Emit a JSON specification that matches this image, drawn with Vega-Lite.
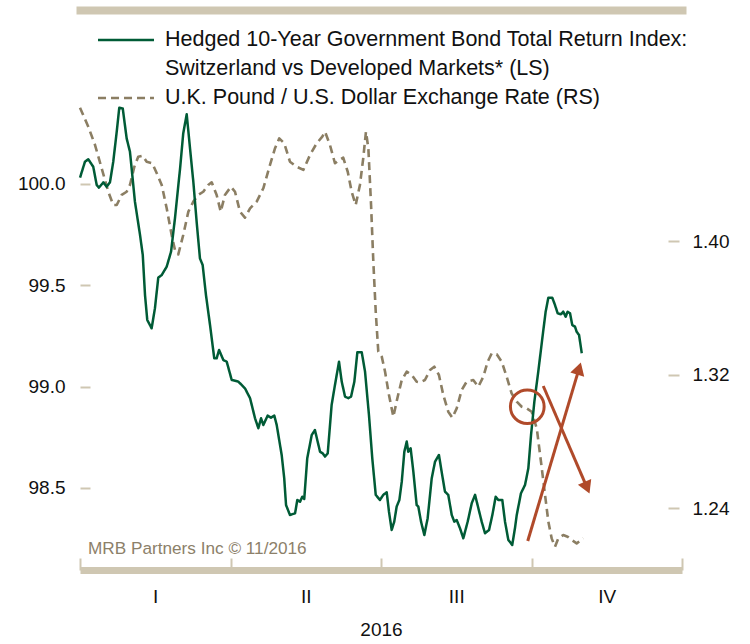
{
  "$schema": "https://vega.github.io/schema/vega-lite/v6.json",
  "width": 602,
  "height": 560,
  "autosize": "none",
  "padding": {"left": 80, "top": 10, "right": 68, "bottom": 74},
  "background": "white",
  "config": {
    "font": "Liberation Sans",
    "view": {"stroke": null},
    "legend": {
      "labelFontSize": 21.5,
      "labelColor": "#111111",
      "labelLimit": 0,
      "rowPadding": 7,
      "padding": 0,
      "symbolType": "M-3,0H3",
      "symbolSize": 348,
      "symbolStrokeWidth": 2.5,
      "labelOffset": 28
    }
  },
  "datasets": {
    "bond": [
      {"t":0,"v":100.031},{"t":0.033,"v":100.110},{"t":0.055,"v":100.122},{"t":0.088,"v":100.085},{"t":0.111,"v":99.995},
      {"t":0.126,"v":99.982},{"t":0.155,"v":100.008},{"t":0.177,"v":99.987},{"t":0.199,"v":100.008},{"t":0.221,"v":100.110},
      {"t":0.244,"v":100.258},{"t":0.261,"v":100.376},{"t":0.284,"v":100.373},{"t":0.310,"v":100.225},{"t":0.332,"v":100.159},
      {"t":0.365,"v":99.913},{"t":0.399,"v":99.748},{"t":0.417,"v":99.650},{"t":0.432,"v":99.452},{"t":0.447,"v":99.329},
      {"t":0.476,"v":99.288},{"t":0.498,"v":99.387},{"t":0.520,"v":99.538},{"t":0.543,"v":99.551},{"t":0.576,"v":99.592},
      {"t":0.605,"v":99.666},{"t":0.631,"v":99.831},{"t":0.665,"v":100.077},{"t":0.686,"v":100.250},{"t":0.709,"v":100.344},
      {"t":0.731,"v":100.176},{"t":0.753,"v":100.011},{"t":0.775,"v":99.814},{"t":0.797,"v":99.633},{"t":0.815,"v":99.600},
      {"t":0.837,"v":99.452},{"t":0.864,"v":99.304},{"t":0.892,"v":99.140},{"t":0.908,"v":99.140},{"t":0.924,"v":99.181},
      {"t":0.952,"v":99.132},{"t":0.975,"v":99.123},{"t":1.008,"v":99.033},{"t":1.052,"v":99.025},{"t":1.096,"v":98.992},
      {"t":1.130,"v":98.943},{"t":1.163,"v":98.844},{"t":1.185,"v":98.795},{"t":1.203,"v":98.844},{"t":1.218,"v":98.811},
      {"t":1.247,"v":98.857},{"t":1.269,"v":98.847},{"t":1.291,"v":98.857},{"t":1.307,"v":98.811},{"t":1.340,"v":98.663},
      {"t":1.357,"v":98.548},{"t":1.369,"v":98.416},{"t":1.395,"v":98.367},{"t":1.429,"v":98.375},{"t":1.444,"v":98.441},
      {"t":1.462,"v":98.432},{"t":1.477,"v":98.457},{"t":1.490,"v":98.446},{"t":1.510,"v":98.647},{"t":1.540,"v":98.762},
      {"t":1.561,"v":98.786},{"t":1.579,"v":98.729},{"t":1.595,"v":98.679},{"t":1.613,"v":98.671},{"t":1.628,"v":98.655},
      {"t":1.646,"v":98.671},{"t":1.672,"v":98.910},{"t":1.694,"v":99.008},{"t":1.721,"v":99.123},{"t":1.739,"v":99.025},
      {"t":1.761,"v":98.951},{"t":1.783,"v":98.943},{"t":1.801,"v":98.951},{"t":1.823,"v":99.025},{"t":1.843,"v":99.170},
      {"t":1.872,"v":99.170},{"t":1.894,"v":99.074},{"t":1.920,"v":98.860},{"t":1.942,"v":98.647},{"t":1.965,"v":98.466},
      {"t":1.993,"v":98.441},{"t":2.015,"v":98.466},{"t":2.038,"v":98.479},{"t":2.053,"v":98.383},{"t":2.071,"v":98.293},
      {"t":2.088,"v":98.334},{"t":2.104,"v":98.408},{"t":2.122,"v":98.441},{"t":2.138,"v":98.531},{"t":2.155,"v":98.679},
      {"t":2.171,"v":98.729},{"t":2.181,"v":98.679},{"t":2.197,"v":98.696},{"t":2.215,"v":98.580},{"t":2.237,"v":98.416},
      {"t":2.248,"v":98.408},{"t":2.266,"v":98.334},{"t":2.288,"v":98.268},{"t":2.310,"v":98.351},{"t":2.337,"v":98.548},
      {"t":2.359,"v":98.630},{"t":2.385,"v":98.663},{"t":2.403,"v":98.580},{"t":2.425,"v":98.482},{"t":2.447,"v":98.466},
      {"t":2.470,"v":98.367},{"t":2.487,"v":98.334},{"t":2.503,"v":98.342},{"t":2.525,"v":98.301},{"t":2.547,"v":98.252},
      {"t":2.576,"v":98.334},{"t":2.603,"v":98.425},{"t":2.625,"v":98.466},{"t":2.647,"v":98.400},{"t":2.669,"v":98.334},
      {"t":2.691,"v":98.277},{"t":2.718,"v":98.293},{"t":2.740,"v":98.367},{"t":2.762,"v":98.457},{"t":2.779,"v":98.441},
      {"t":2.806,"v":98.441},{"t":2.824,"v":98.334},{"t":2.846,"v":98.244},{"t":2.872,"v":98.219},{"t":2.890,"v":98.301},
      {"t":2.902,"v":98.367},{"t":2.930,"v":98.474},{"t":2.957,"v":98.515},{"t":2.979,"v":98.597},{"t":2.997,"v":98.762},
      {"t":3.019,"v":98.926},{"t":3.045,"v":99.074},{"t":3.072,"v":99.239},{"t":3.094,"v":99.370},{"t":3.112,"v":99.439},
      {"t":3.138,"v":99.439},{"t":3.156,"v":99.403},{"t":3.174,"v":99.362},{"t":3.196,"v":99.357},{"t":3.211,"v":99.370},
      {"t":3.227,"v":99.345},{"t":3.240,"v":99.370},{"t":3.256,"v":99.362},{"t":3.271,"v":99.304},{"t":3.289,"v":99.296},
      {"t":3.300,"v":99.271},{"t":3.316,"v":99.255},{"t":3.334,"v":99.165}
    ],
    "gbp": [
      {"t":0,"r":1.4799},{"t":0.055,"r":1.4685},{"t":0.100,"r":1.4575},{"t":0.144,"r":1.4436},{"t":0.188,"r":1.4295},
      {"t":0.221,"r":1.4216},{"t":0.244,"r":1.4216},{"t":0.277,"r":1.4276},{"t":0.310,"r":1.4295},{"t":0.332,"r":1.4336},
      {"t":0.361,"r":1.4445},{"t":0.387,"r":1.4505},{"t":0.417,"r":1.4511},{"t":0.443,"r":1.4475},{"t":0.480,"r":1.4466},
      {"t":0.510,"r":1.4406},{"t":0.543,"r":1.4336},{"t":0.576,"r":1.4196},{"t":0.609,"r":1.4036},{"t":0.631,"r":1.3946},
      {"t":0.653,"r":1.3920},{"t":0.686,"r":1.4036},{"t":0.720,"r":1.4176},{"t":0.753,"r":1.4236},{"t":0.786,"r":1.4276},
      {"t":0.819,"r":1.4295},{"t":0.852,"r":1.4336},{"t":0.875,"r":1.4352},{"t":0.908,"r":1.4276},{"t":0.935,"r":1.4176},
      {"t":0.963,"r":1.4276},{"t":1.003,"r":1.4325},{"t":1.030,"r":1.4295},{"t":1.063,"r":1.4176},{"t":1.096,"r":1.4140},
      {"t":1.130,"r":1.4196},{"t":1.174,"r":1.4236},{"t":1.218,"r":1.4316},{"t":1.262,"r":1.4455},{"t":1.296,"r":1.4556},
      {"t":1.324,"r":1.4615},{"t":1.357,"r":1.4586},{"t":1.395,"r":1.4475},{"t":1.440,"r":1.4445},{"t":1.484,"r":1.4426},
      {"t":1.528,"r":1.4515},{"t":1.573,"r":1.4586},{"t":1.610,"r":1.4625},{"t":1.628,"r":1.4655},{"t":1.661,"r":1.4575},
      {"t":1.694,"r":1.4466},{"t":1.721,"r":1.4485},{"t":1.749,"r":1.4499},{"t":1.779,"r":1.4415},{"t":1.805,"r":1.4295},
      {"t":1.832,"r":1.4216},{"t":1.860,"r":1.4336},{"t":1.882,"r":1.4496},{"t":1.900,"r":1.4655},{"t":1.916,"r":1.4556},
      {"t":1.934,"r":1.4216},{"t":1.949,"r":1.3876},{"t":1.965,"r":1.3576},{"t":1.982,"r":1.3337},{"t":2.005,"r":1.3307},
      {"t":2.027,"r":1.3217},{"t":2.053,"r":1.3077},{"t":2.082,"r":1.2947},{"t":2.111,"r":1.3067},{"t":2.138,"r":1.3167},
      {"t":2.171,"r":1.3217},{"t":2.204,"r":1.3197},{"t":2.237,"r":1.3157},{"t":2.259,"r":1.3153},{"t":2.292,"r":1.3167},
      {"t":2.326,"r":1.3227},{"t":2.354,"r":1.3247},{"t":2.385,"r":1.3197},{"t":2.414,"r":1.3077},{"t":2.447,"r":1.2977},
      {"t":2.474,"r":1.2941},{"t":2.503,"r":1.2997},{"t":2.536,"r":1.3107},{"t":2.569,"r":1.3157},{"t":2.613,"r":1.3167},
      {"t":2.647,"r":1.3127},{"t":2.680,"r":1.3187},{"t":2.709,"r":1.3277},{"t":2.736,"r":1.3327},{"t":2.769,"r":1.3321},
      {"t":2.802,"r":1.3277},{"t":2.835,"r":1.3187},{"t":2.868,"r":1.3087},{"t":2.902,"r":1.3037},{"t":2.935,"r":1.3007},
      {"t":2.968,"r":1.2997},{"t":3.001,"r":1.2977},{"t":3.035,"r":1.2877},{"t":3.063,"r":1.2677},{"t":3.090,"r":1.2478},
      {"t":3.112,"r":1.2318},{"t":3.134,"r":1.2218},{"t":3.156,"r":1.2168},{"t":3.178,"r":1.2218},{"t":3.211,"r":1.2238},
      {"t":3.240,"r":1.2228},{"t":3.267,"r":1.2208},{"t":3.300,"r":1.2188},{"t":3.344,"r":1.2218}
    ]
  },
  "layer": [
    {
      "data": {"name": "gbp"},
      "mark": {"type": "line", "strokeWidth": 2.6, "strokeJoin": "round"},
      "encoding": {
        "x": {
          "field": "t", "type": "quantitative",
          "scale": {"domain": [0, 4], "nice": false, "zero": false},
          "axis": {"orient": "top", "domainColor": "#cfc7b2", "domainWidth": 8, "domainCap": "square", "ticks": false, "labels": false, "grid": false, "title": null}
        },
        "y": {
          "field": "r", "type": "quantitative",
          "scale": {"domain": [1.20285, 1.53843], "nice": false, "zero": false},
          "axis": {"orient": "right", "values": [1.24, 1.32, 1.40], "format": ".2f", "domain": false, "grid": false, "offset": -3, "tickSize": -11, "tickWidth": 2, "tickColor": "#cfc7b2", "labelPadding": 24, "labelFontSize": 19, "labelColor": "#111111", "title": null}
        },
        "color": {
          "datum": "RS", "type": "nominal",
          "scale": {"domain": ["LS", "LS2", "RS"], "range": ["#005b36", "transparent", "#8b7e63"]},
          "legend": {"orient": "none", "legendX": 35, "legendY": 19, "title": null, "labelExpr": "datum.value == 'LS' ? 'Hedged 10-Year Government Bond Total Return Index:' : datum.value == 'LS2' ? 'Switzerland vs Developed Markets* (LS)' : 'U.K. Pound / U.S. Dollar Exchange Rate (RS)'"}
        },
        "strokeDash": {
          "datum": "RS", "type": "nominal",
          "scale": {"domain": ["LS", "LS2", "RS"], "range": [[1, 0], [1, 0], [8, 5]]},
          "legend": {"orient": "none", "legendX": 35, "legendY": 19, "title": null, "labelExpr": "datum.value == 'LS' ? 'Hedged 10-Year Government Bond Total Return Index:' : datum.value == 'LS2' ? 'Switzerland vs Developed Markets* (LS)' : 'U.K. Pound / U.S. Dollar Exchange Rate (RS)'"}
        }
      }
    },
    {
      "encoding": {
        "x": {
          "field": "t", "type": "quantitative",
          "scale": {"domain": [0, 4], "nice": false, "zero": false},
          "axis": {
            "orient": "bottom",
            "values": [0, 0.5, 1, 1.5, 2, 2.5, 3, 3.5, 4],
            "labelExpr": "datum.value == 0.5 ? 'I' : datum.value == 1.5 ? 'II' : datum.value == 2.5 ? 'III' : datum.value == 3.5 ? 'IV' : ''",
            "tickSize": -12, "tickWidth": 2, "tickColor": "#cfc7b2",
            "tickOpacity": {"condition": {"test": "datum.value % 1 == 0", "value": 1}, "value": 0},
            "domainColor": "#cfc7b2", "domainWidth": 7,
            "labelPadding": 29, "labelFontSize": 19, "labelColor": "#111111",
            "labelOverlap": false, "labelFlush": false, "grid": false,
            "title": "2016", "titleFontSize": 19, "titleFontWeight": "normal", "titleColor": "#111111", "titlePadding": 14
          }
        },
        "y": {
          "field": "v", "type": "quantitative",
          "scale": {"domain": [98.0954, 100.8585], "nice": false, "zero": false},
          "axis": {"orient": "left", "values": [98.5, 99, 99.5, 100], "format": ".1f", "domain": false, "grid": false, "tickSize": -10, "tickWidth": 2, "tickColor": "#cfc7b2", "labelPadding": 25, "labelFontSize": 19, "labelColor": "#111111", "title": null}
        }
      },
      "layer": [
        {
          "data": {"name": "bond"},
          "mark": {"type": "line", "strokeWidth": 2.5, "strokeJoin": "round"},
          "encoding": {
            "color": {
              "datum": "LS", "type": "nominal",
              "scale": {"domain": ["LS", "LS2", "RS"], "range": ["#005b36", "transparent", "#8b7e63"]},
              "legend": {"orient": "none", "legendX": 35, "legendY": 19, "title": null, "labelExpr": "datum.value == 'LS' ? 'Hedged 10-Year Government Bond Total Return Index:' : datum.value == 'LS2' ? 'Switzerland vs Developed Markets* (LS)' : 'U.K. Pound / U.S. Dollar Exchange Rate (RS)'"}
            },
            "strokeDash": {
              "datum": "LS", "type": "nominal",
              "scale": {"domain": ["LS", "LS2", "RS"], "range": [[1, 0], [1, 0], [8, 5]]},
              "legend": {"orient": "none", "legendX": 35, "legendY": 19, "title": null, "labelExpr": "datum.value == 'LS' ? 'Hedged 10-Year Government Bond Total Return Index:' : datum.value == 'LS2' ? 'Switzerland vs Developed Markets* (LS)' : 'U.K. Pound / U.S. Dollar Exchange Rate (RS)'"}
            }
          }
        },
        {
          "data": {"values": [
            {"t": 2.975, "v": 98.2385, "t2": 3.316, "v2": 99.089},
            {"t": 3.078, "v": 99.0033, "t2": 3.369, "v2": 98.5015}
          ]},
          "mark": {"type": "rule", "color": "#b04a2a", "strokeWidth": 3},
          "encoding": {
            "x2": {"field": "t2"},
            "y2": {"field": "v2"}
          }
        },
        {
          "data": {"values": [{"t": 3.316, "v": 99.089}]},
          "mark": {"type": "point", "shape": "triangle-up", "angle": 16.6, "filled": true, "color": "#b04a2a", "opacity": 1, "size": 210},
          "encoding": {}
        },
        {
          "data": {"values": [{"t": 3.369, "v": 98.5015}]},
          "mark": {"type": "point", "shape": "triangle-up", "angle": 156.7, "filled": true, "color": "#b04a2a", "opacity": 1, "size": 210},
          "encoding": {}
        },
        {
          "data": {"values": [{"t": 2.972, "v": 98.901}]},
          "mark": {"type": "point", "shape": "circle", "filled": false, "color": "#b04a2a", "strokeWidth": 3, "opacity": 1, "size": 1136},
          "encoding": {}
        },
        {
          "data": {"values": [{"t": 0.053, "v": 98.174, "label": "MRB Partners Inc © 11/2016"}]},
          "mark": {"type": "text", "align": "left", "baseline": "alphabetic", "fontSize": 17.2, "color": "#8c8069"},
          "encoding": {"text": {"field": "label"}}
        }
      ]
    }
  ],
  "resolve": {"scale": {"y": "independent"}, "axis": {"x": "independent"}}
}
